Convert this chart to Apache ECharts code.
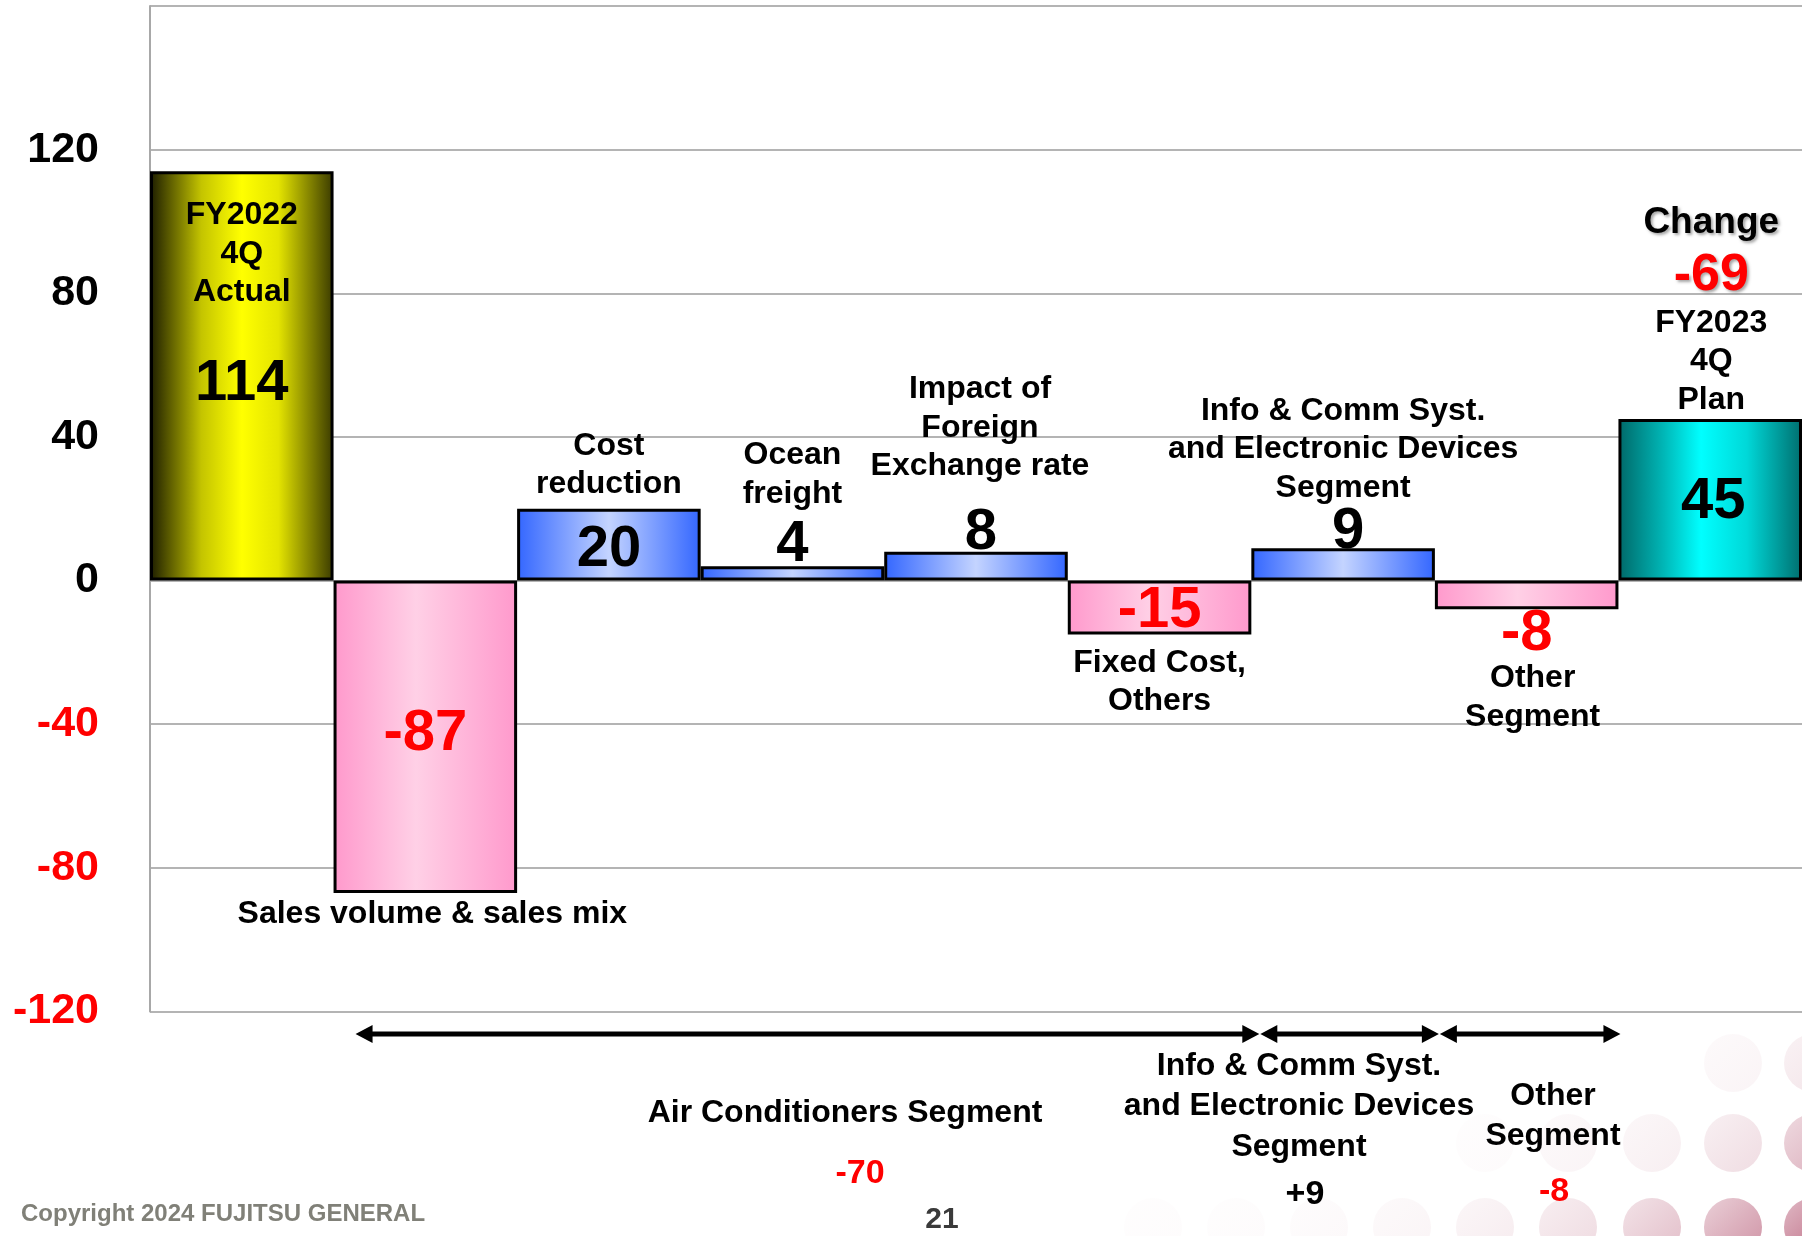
<!DOCTYPE html>
<html>
<head>
<meta charset="utf-8">
<title>Operating income variance FY2022 4Q → FY2023 4Q</title>
<script src="https://cdn.jsdelivr.net/npm/echarts@6/dist/echarts.min.js"></script>
<style>
  html, body { margin: 0; padding: 0; background: #ffffff; }
  #chart { width: 1802px; height: 1236px; }
</style>
</head>
<body>
<div id="chart"></div>
<script>
// ---- data ----------------------------------------------------------------
const categories = [
  'FY2022 4Q Actual', 'Sales volume & sales mix', 'Cost reduction', 'Ocean freight',
  'Impact of Foreign Exchange rate', 'Fixed Cost, Others',
  'Info & Comm Syst. and Electronic Devices Segment', 'Other Segment', 'FY2023 4Q Plan'
];
const barNameLines = [
  ['FY2022', '4Q', 'Actual'],
  ['Sales volume & sales mix'],
  ['Cost', 'reduction'],
  ['Ocean', 'freight'],
  ['Impact of', 'Foreign', 'Exchange rate'],
  ['Fixed Cost,', 'Others'],
  ['Info & Comm Syst.', 'and Electronic Devices', 'Segment'],
  ['Other', 'Segment'],
  ['FY2023', '4Q', 'Plan']
];
const values = [114, -87, 20, 4, 8, -15, 9, -8, 45];
const yMin = -120, yMax = 160, yStep = 40;

// business segments grouping the variance items (category index ranges)
const segmentNames = [
  ['Air Conditioners Segment'],
  ['Info & Comm Syst.', 'and Electronic Devices', 'Segment'],
  ['Other', 'Segment']
];
const segmentFrom = [1, 6, 7];
const segmentTo = [5, 6, 7];

// ---- styling ---------------------------------------------------------------
const FONT = '"Liberation Sans", Arial, Helvetica, sans-serif';
const RED = '#ff0000';
const last = values.length - 1;

function hGrad(stops) {
  return new echarts.graphic.LinearGradient(0, 0, 1, 0,
    stops.map(([offset, color]) => ({ offset, color })));
}
const fills = {
  start: [[0, '#1c1c00'], [0.28, '#c4c400'], [0.5, '#ffff00'], [0.7, '#e4e400'], [1, '#3a3a00']],
  end:   [[0, '#006868'], [0.25, '#00b8b8'], [0.45, '#00ffff'], [0.7, '#00d8d8'], [1, '#006e6e']],
  up:    [[0, '#3366ff'], [0.5, '#c4d4ff'], [1, '#3366ff']],
  down:  [[0, '#ff99cc'], [0.45, '#ffd0e6'], [1, '#ff99cc']]
};
function fillFor(i) {
  if (i === 0) return hGrad(fills.start);
  if (i === last) return hGrad(fills.end);
  return hGrad(values[i] >= 0 ? fills.up : fills.down);
}

// offsets of the value numbers, and placement of the item names
const valueOffsets = [[0, 8], [0, -3], [0, 5], [0, 1], [5, 3], [0, 3], [5, 6], [0, 3], [3, 2]];
const nameGaps = [25, 2, 5, 53, 66, 9, 41, 50, 0];
const nameOffsets = [[0, 0], [7, 0], [0, 0], [0, 0], [4, 0], [0, 0], [0, 0], [6, 0], [1, 0]];

const nameStyle = { fontFamily: FONT, fontWeight: 'bold', fontSize: 32, lineHeight: 38.5, color: '#000' };
const change = values[last] - values[0];

function valueLabel(i) {
  const v = values[i];
  const inside = i === 0 || i === last || Math.abs(v) >= 15;
  return {
    show: true,
    position: inside ? 'inside' : (v >= 0 ? 'top' : 'bottom'),
    distance: 0,
    offset: valueOffsets[i],
    formatter: String(v),
    color: v < 0 ? RED : '#000',
    fontFamily: FONT, fontWeight: 'bold', fontSize: 58, lineHeight: 44,
    textBorderWidth: 0
  };
}

function nameLabel(i) {
  const v = values[i];
  let text = barNameLines[i].map(s => '{n|' + s + '}').join('\n');
  if (i === last) text = '{c|Change}\n{d|' + change + '}\n' + text;
  return {
    show: true,
    position: i === 0 ? 'insideTop' : (v >= 0 ? 'top' : 'bottom'),
    distance: nameGaps[i],
    offset: nameOffsets[i],
    formatter: text,
    textBorderWidth: 0,
    rich: {
      n: nameStyle,
      c: {
        fontFamily: FONT, fontWeight: 'bold', fontSize: 37, lineHeight: 50, color: '#000',
        textShadowColor: 'rgba(0,0,0,0.35)', textShadowBlur: 3, textShadowOffsetX: 2, textShadowOffsetY: 2
      },
      d: {
        fontFamily: FONT, fontWeight: 'bold', fontSize: 52, lineHeight: 56, color: RED,
        textShadowColor: 'rgba(0,0,0,0.35)', textShadowBlur: 3, textShadowOffsetX: 2, textShadowOffsetY: 2
      }
    }
  };
}

const option = {
  animation: false,
  backgroundColor: '#ffffff',
  grid: { left: 150, top: 6, width: 1655, height: 1005.5, containLabel: false },
  xAxis: {
    type: 'category',
    data: categories,
    boundaryGap: true,
    axisLine: { show: false },
    axisTick: { show: false },
    axisLabel: { show: false },
    splitLine: { show: false }
  },
  yAxis: {
    type: 'value',
    min: yMin, max: yMax, interval: yStep,
    axisLine: { show: true, lineStyle: { color: '#a8a8a8', width: 2 } },
    axisTick: { show: false },
    splitLine: { show: true, lineStyle: { color: '#b4b4b4', width: 2 } },
    axisLabel: {
      margin: 51,
      fontFamily: FONT, fontWeight: 'bold', fontSize: 43,
      formatter: v => (v === yMax ? '' : String(v)),
      color: v => (Number(v) < 0 ? RED : '#000')
    }
  },
  series: [
    {
      name: 'Change',
      type: 'bar',
      barCategoryGap: '0%',
      barGap: '-100%',
      z: 3,
      data: values.map((v, i) => ({
        value: v,
        itemStyle: { color: fillFor(i), borderColor: '#000', borderWidth: 3 },
        label: valueLabel(i)
      }))
    },
    {
      name: 'Item',
      type: 'bar',
      barCategoryGap: '0%',
      barGap: '-100%',
      silent: true,
      z: 4,
      data: values.map((v, i) => ({
        value: v,
        itemStyle: { color: 'rgba(0,0,0,0)', borderWidth: 0 },
        label: nameLabel(i)
      }))
    }
  ]
};

const chart = echarts.init(document.getElementById('chart'), null, { renderer: 'canvas' });
chart.setOption(option);

// ---- segment brackets, notes and footer -------------------------------------
const c0 = chart.convertToPixel({ xAxisIndex: 0 }, 0);
const c1 = chart.convertToPixel({ xAxisIndex: 0 }, 1);
const band = c1 - c0;
const edge = i => c0 - band / 2 + band * i;

const arrowY = 1034;
const arrowInsets = [[22, 8], [9, 4], [5, 2]];
const segNamePos = [[845, 1113], [1299, 1066], [1553, 1096]];
const segValuePos = [[860, 1174], [1305, 1195], [1554, 1192]];

function arrow(x1, x2, y) {
  const head = 17, half = 9;
  return {
    type: 'group',
    children: [
      { type: 'line', shape: { x1: x1 + head - 2, y1: y, x2: x2 - head + 2, y2: y },
        style: { stroke: '#000', lineWidth: 5 } },
      { type: 'polygon', shape: { points: [[x1, y], [x1 + head, y - half], [x1 + head, y + half]] },
        style: { fill: '#000' } },
      { type: 'polygon', shape: { points: [[x2, y], [x2 - head, y - half], [x2 - head, y + half]] },
        style: { fill: '#000' } }
    ]
  };
}

const graphics = [];

// decorative dot pattern in the lower right corner
const dotRows = [
  { y: 1063, xs: [1733, 1813], a: [0.05, 0.13] },
  { y: 1143, xs: [1485, 1568, 1652, 1733, 1813], a: [0.02, 0.05, 0.08, 0.16, 0.38] },
  { y: 1227, xs: [1153, 1236, 1319, 1402, 1485, 1568, 1652, 1733, 1813],
    a: [0.015, 0.02, 0.03, 0.05, 0.09, 0.17, 0.3, 0.5, 0.72] }
];
dotRows.forEach(row => {
  row.xs.forEach((x, k) => {
    const a = row.a[k];
    graphics.push({
      type: 'circle', z: -10, silent: true,
      shape: { cx: x, cy: row.y, r: 29 },
      style: {
        fill: new echarts.graphic.LinearGradient(0, 0, 1, 1, [
          { offset: 0, color: 'rgba(160,40,76,' + (a * 0.45).toFixed(3) + ')' },
          { offset: 1, color: 'rgba(160,40,76,' + a.toFixed(3) + ')' }
        ])
      }
    });
  });
});

segmentNames.forEach((lines, s) => {
  const x1 = edge(segmentFrom[s]) + arrowInsets[s][0];
  const x2 = edge(segmentTo[s] + 1) + arrowInsets[s][1];
  graphics.push(arrow(x1, x2, arrowY));

  const total = values.slice(segmentFrom[s], segmentTo[s] + 1).reduce((p, q) => p + q, 0);
  const lh = 40.5;
  const [nx, ny] = segNamePos[s];
  lines.forEach((t, j) => {
    graphics.push({
      type: 'text', x: nx, y: ny + j * lh,
      style: { text: t, fill: '#000', font: 'bold 32px ' + FONT, align: 'center', verticalAlign: 'middle' }
    });
  });
  const [vx, vy] = segValuePos[s];
  graphics.push({
    type: 'text', x: vx, y: vy,
    style: {
      text: (total > 0 ? '+' : '') + total,
      fill: total < 0 ? RED : '#000',
      font: 'bold 34px ' + FONT, align: 'center', verticalAlign: 'middle'
    }
  });
});

graphics.push({
  type: 'text', x: 21, y: 1214,
  style: { text: 'Copyright 2024 FUJITSU GENERAL', fill: '#808078', font: 'bold 24px ' + FONT,
           align: 'left', verticalAlign: 'middle' }
});
graphics.push({
  type: 'text', x: 942, y: 1220,
  style: { text: '21', fill: '#3a3a3a', font: 'bold 30px ' + FONT, align: 'center', verticalAlign: 'middle' }
});

chart.setOption({ graphic: graphics });
</script>
</body>
</html>
